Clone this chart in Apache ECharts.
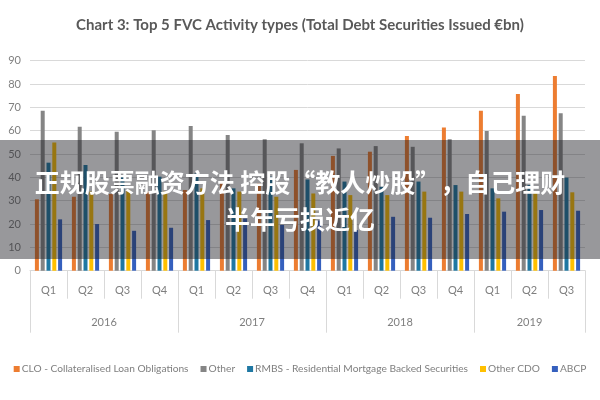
<!DOCTYPE html>
<html>
<head>
<meta charset="utf-8">
<script src="https://cdn.jsdelivr.net/npm/echarts@6/dist/echarts.min.js"></script>
<style>html,body{margin:0;padding:0;background:#fff}#c{width:600px;height:400px}</style>
</head>
<body>
<div id="c"></div>
<script>
const quarters = ['Q1','Q2','Q3','Q4','Q1','Q2','Q3','Q4','Q1','Q2','Q3','Q4','Q1','Q2','Q3'];
const years = ['2016','2017','2018','2019'];
const yearCenters = [2, 6, 10, 13.5];
const yearBounds = [0, 4, 8, 12, 15];
const clo      = [30.6, 31.7, 32.9, 33.9, 34.6, 38, 37.4, 43.2, 49.2, 51, 57.7, 61.4, 68.6, 75.7, 83.4];
const other    = [68.6, 61.7, 59.6, 60.2, 62, 58.2, 56.3, 54.6, 52.4, 53.4, 53.1, 56.3, 59.9, 66.4, 67.5];
const rmbs     = [46.3, 45.3, 40.3, 40.3, 41.7, 35.3, 40.3, 39.1, 38.2, 36, 38.2, 36.7, 35.3, 36.7, 39.9];
const otherCdo = [54.9, 33.9, 34.6, 34, 35.3, 33.9, 31.7, 33.1, 32.4, 32.4, 33.9, 33.9, 31, 33.9, 33.6];
const abcp     = [22, 20, 17.1, 18.4, 21.7, 22.4, 19.6, 21.5, 17.4, 23.1, 22.7, 24.3, 25.3, 26, 25.7];
const seriesNames = ['CLO - Collateralised Loan Obligations','Other','RMBS - Residential Mortgage Backed Securities','Other CDO','ABCP'];
const colors = ['#ED7D31','#858585','#1F78A3','#FFC000','#3560BE'];
const narrow = 'Lato, sans-serif';

const chart = echarts.init(document.getElementById('c'));
const mk = (name, data, i) => ({
  name, type: 'bar', data, barWidth: 4, barGap: '45%',
  itemStyle: { color: colors[i] }
});
chart.setOption({
  animation: false,
  color: colors,
  title: {
    text: 'Chart 3: Top 5 FVC Activity types (Total Debt Securities Issued €bn)',
    left: 'center', top: 13,
    textStyle: { fontSize: 15, fontWeight: 'bold', color: '#595959', fontFamily: narrow }
  },
  legend: {
    top: 359, left: 'center', icon: 'rect', itemWidth: 6, itemHeight: 6, itemGap: 12,
    textStyle: { fontSize: 10.2, color: '#7f7f7f', fontFamily: narrow, padding: [0,0,0,-3] },
    data: seriesNames
  },
  grid: { left: 30, right: 15, top: 60.7, bottom: 129.3 },
  xAxis: [{
    type: 'category', data: quarters, position: 'bottom',
    axisLine: { lineStyle: { color: '#d9d9d9' } },
    axisTick: { show: true, interval: 0, length: 28, lineStyle: { color: '#d9d9d9' } },
    axisLabel: { interval: 0, margin: 14, color: '#7f7f7f', fontSize: 11, fontFamily: narrow }
  }, {
    type: 'value', position: 'bottom', min: 0, max: 15,
    axisLine: { show: false },
    splitLine: { show: false },
    axisTick: { show: true, length: 62, customValues: yearBounds, lineStyle: { color: '#d9d9d9' } },
    axisLabel: { margin: 46, customValues: yearCenters, color: '#7f7f7f', fontSize: 11, fontFamily: narrow,
      formatter: v => years[yearCenters.indexOf(v)] || '' }
  }],
  yAxis: {
    type: 'value', min: 0, max: 90, interval: 10,
    axisLine: { show: false }, axisTick: { show: false },
    splitLine: { lineStyle: { color: '#d9d9d9' } },
    axisLabel: { margin: 9, color: '#7f7f7f', fontSize: 11, fontFamily: narrow }
  },
  series: [mk(seriesNames[0], clo, 0), mk(seriesNames[1], other, 1), mk(seriesNames[2], rmbs, 2), mk(seriesNames[3], otherCdo, 3), mk(seriesNames[4], abcp, 4)],
  graphic: [
    { type: 'rect', z: 100, shape: { x: 0, y: 140, width: 600, height: 119 }, style: { fill: 'rgba(30,30,36,0.46)' } },
    { type: 'text', z: 101, x: 300, y: 182, style: { text: '正规股票融资方法 控股“教人炒股”，自己理财', fill: '#fff', font: 'bold 25px "Noto Sans CJK SC"', textAlign: 'center', textVerticalAlign: 'middle' } },
    { type: 'text', z: 101, x: 300, y: 219, style: { text: '半年亏损近亿', fill: '#fff', font: 'bold 25px "Noto Sans CJK SC"', textAlign: 'center', textVerticalAlign: 'middle' } }
  ]
});
</script>
</body>
</html>
